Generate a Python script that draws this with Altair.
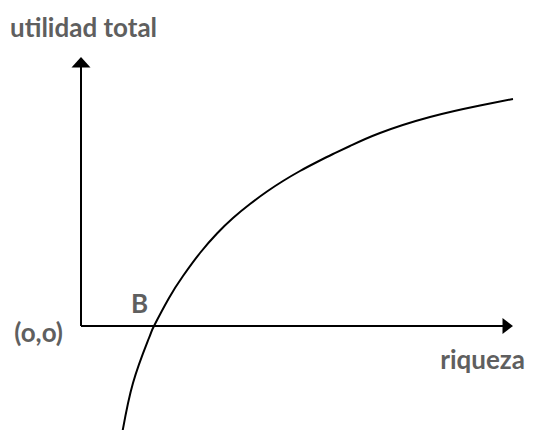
import altair as alt
import pandas as pd

# Curve (units: riqueza vs utilidad total, origin at (0,0))
curve_x = [4.0, 5.2, 6.8, 7.3, 8.8, 10.2, 11.9, 13.6, 15.2, 16.9, 18.6, 20.2,
           21.9, 23.6, 25.2, 26.9, 29.9, 34.9, 39.9, 43.2]
curve_y = [-11.4, -5.7, -1.2, 0.0, 2.8, 5.0, 7.3, 9.25, 10.8, 12.2, 13.45, 14.5,
           15.5, 16.4, 17.2, 18.0, 19.3, 20.9, 22.05, 22.7]

# Axes (ends of arrows)
axis_x_end = 42.2
axis_y_end = 25.9

# Labels
label_text = ["utilidad total", "(o,o)", "B", "riqueza"]
label_x = [-7.1, -1.8, 5.85, 44.4]
label_y = [28.95, -1.6, 1.3, -4.3]
label_align = ["left", "right", "center", "right"]

X_DOM = [-7.3, 44.5]
Y_DOM = [-10.4, 31.8]

xs = alt.Scale(domain=X_DOM, nice=False, zero=False)
ys = alt.Scale(domain=Y_DOM, nice=False, zero=False)

curve_df = pd.DataFrame({"x": curve_x, "y": curve_y})
axes_df = pd.DataFrame({
    "x": [0, 0], "y": [0, 0],
    "x2": [axis_x_end, 0], "y2": [0, axis_y_end],
})
arrow_up = pd.DataFrame({"x": [0], "y": [axis_y_end]})
arrow_right = pd.DataFrame({"x": [axis_x_end], "y": [0]})
labels_df = pd.DataFrame({"t": label_text, "x": label_x, "y": label_y, "a": label_align})

X = lambda: alt.X("x:Q", scale=xs, axis=None)
Y = lambda: alt.Y("y:Q", scale=ys, axis=None)

curve = alt.Chart(curve_df).mark_line(
    color="black", strokeWidth=2, interpolate="natural", clip=True
).encode(x=X(), y=Y(), order="x:Q")

axes = alt.Chart(axes_df).mark_rule(color="black", strokeWidth=2).encode(
    x=X(), y=Y(), x2="x2:Q", y2="y2:Q"
)

up = alt.Chart(arrow_up).mark_point(
    shape="M0,-1.05L1,0.05L-1,0.05Z", size=361, filled=True, color="black", opacity=1, strokeWidth=0
).encode(x=X(), y=Y())

right = alt.Chart(arrow_right).mark_point(
    shape="M1.05,0L-0.05,-0.85L-0.05,0.85Z", size=361, filled=True, color="black", opacity=1, strokeWidth=0
).encode(x=X(), y=Y())

def text_layer(align):
    d = labels_df[labels_df["a"] == align]
    return alt.Chart(d).mark_text(
        align=align, baseline="alphabetic", font="Lato", fontSize=26,
        fontWeight="bold", color="#5f5f5f"
    ).encode(x=X(), y=Y(), text="t:N")

chart = alt.layer(
    axes, curve, up, right,
    text_layer("left"), text_layer("right"), text_layer("center")
).properties(
    width=518, height=422, padding=0,
    autosize=alt.AutoSizeParams(type="none")
).configure_view(stroke=None)

chart.save("out.html", embed_options={"renderer": "svg", "actions": False})
